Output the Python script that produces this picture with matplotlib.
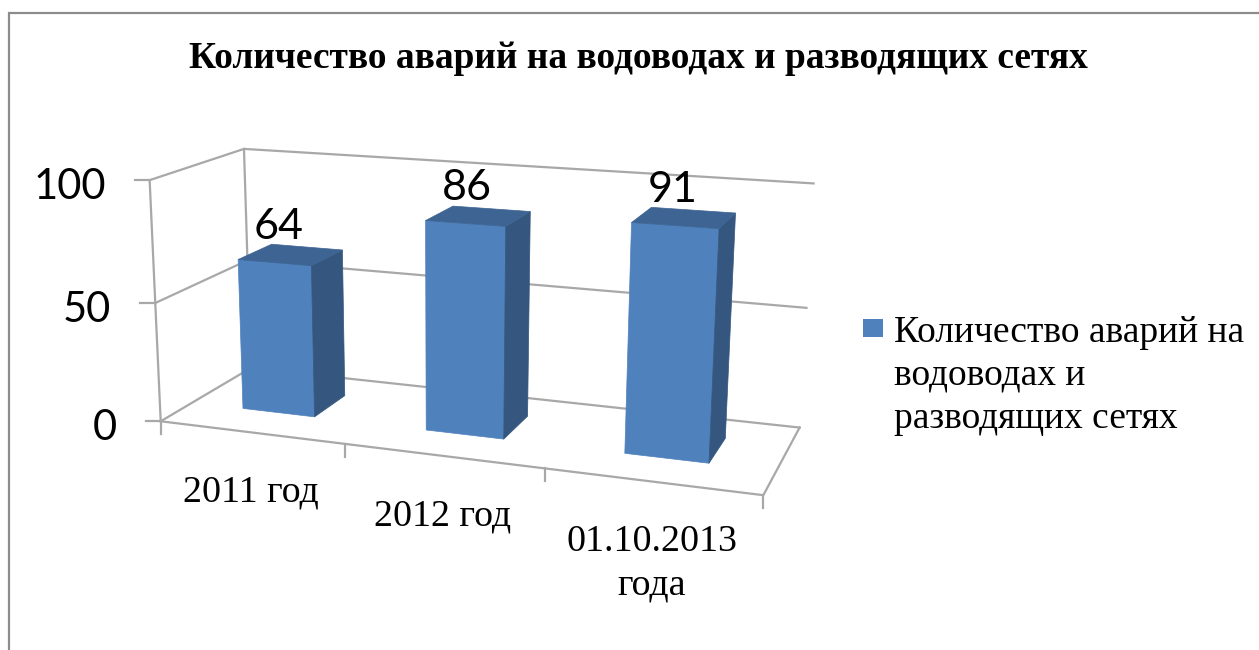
#!/usr/bin/env python3
import matplotlib
matplotlib.use('Agg')
import matplotlib.pyplot as plt
from matplotlib.patches import Polygon, Rectangle
import numpy as np

title = 'Количество аварий на водоводах и разводящих сетях'
categories = ['2011 год', '2012 год', '01.10.2013\nгода']
values = [64, 86, 91]
y_ticks = [0, 50, 100]
y_max = 100
legend_lines = ['Количество аварий на', 'водоводах и', 'разводящих сетях']

FRONT = '#4F81BD'
SIDE = '#34567F'
TOP = '#3D6493'
GRID = '#A8A8A8'
BORDER = '#8C8C8C'
SERIF = 'Liberation Serif'
SANS = 'Lato'

# box corners (category, depth, height as 0-1) and where they land on the image,
# used to fit one perspective camera for the whole 3d scene
calib_box = [(0, 0, 0), (1, 0, 0), (0, 1, 0), (1, 1, 0), (0, 0, 1), (0, 1, 1), (1, 1, 1),
             (1/3, 0, 0), (2/3, 0, 0), (0, 0, .5), (0, 1, .5), (1, 1, .5)]
calib_img = [(163, 421), (763, 496), (248, 368), (800, 427), (147, 180), (247, 150), (813, 183),
             (347, 445), (544, 468), (155, 302), (247, 260), (807, 308)]


def fit_camera(box, img):
    rows = []
    for (u, d, v), (x, y) in zip(box, img):
        p = [u, d, v, 1]
        rows.append(p + [0, 0, 0, 0] + [-x * c for c in p])
        rows.append([0, 0, 0, 0] + p + [-y * c for c in p])
    _, _, vt = np.linalg.svd(np.array(rows, dtype=float))
    return vt[-1].reshape(3, 4)


cam = fit_camera(calib_box, calib_img)


def proj(u, d, val):
    """category position (0-1), depth (0-1), axis value -> image pixel"""
    h = cam @ np.array([u, d, val / y_max, 1.0])
    return h[0] / h[2], h[1] / h[2]


fig = plt.figure(figsize=(12.59, 6.5), dpi=100)
ax = fig.add_axes([0, 0, 1, 1])
ax.set_xlim(0, 1259)
ax.set_ylim(650, 0)
ax.axis('off')

# frame of the chart (cut off on the right and at the bottom)
ax.plot([9, 9, 1259], [650, 13, 13], color=BORDER, lw=1.6, solid_joinstyle='miter')

ax.text(638, 59, title, family=SERIF, weight='bold', fontsize=26.9, ha='center', va='center')

# walls and floor
for t in y_ticks:
    pts = [proj(0, 0, t), proj(0, 1, t), proj(1, 1, t)]
    ax.plot(*zip(*pts), color=GRID, lw=1.6, zorder=1)
    x, y = proj(0, 0, t)
    ax.plot([x - 15, x], [y, y], color=GRID, lw=1.6, zorder=1)
    ax.text(x - 44, y + 7, str(t), family=SANS, fontsize=30, ha='right', va='center')

ax.plot(*zip(proj(0, 0, 0), proj(0, 0, y_max)), color=GRID, lw=1.6, zorder=1)
ax.plot(*zip(proj(0, 1, 0), proj(0, 1, y_max)), color=GRID, lw=1.6, zorder=1)
ax.plot(*zip(proj(0, 0, 0), proj(1, 0, 0), proj(1, 1, 0)), color=GRID, lw=1.6, zorder=1)

n = len(categories)
for i in range(n + 1):
    x, y = proj(i / n, 0, 0)
    ax.plot([x, x], [y, y + 13], color=GRID, lw=1.6, zorder=1)

# bars
bar_w = 0.40 / n
d0, d1 = 0.33, 0.71
for i, (cat, val) in enumerate(zip(categories, values)):
    uc = (i + 0.49) / n
    u0, u1 = uc - bar_w / 2, uc + bar_w / 2
    ax.add_patch(Polygon([proj(u0, d0, 0), proj(u1, d0, 0), proj(u1, d0, val), proj(u0, d0, val)],
                         fc=FRONT, ec=FRONT, lw=0.5, zorder=3))
    ax.add_patch(Polygon([proj(u1, d0, 0), proj(u1, d1, 0), proj(u1, d1, val), proj(u1, d0, val)],
                         fc=SIDE, ec=SIDE, lw=0.5, zorder=3))
    ax.add_patch(Polygon([proj(u0, d0, val), proj(u1, d0, val), proj(u1, d1, val), proj(u0, d1, val)],
                         fc=TOP, ec=TOP, lw=0.5, zorder=3))

    x, y = proj(uc, (d0 + d1) / 2, val)
    ax.text(x - 12, y - 28, str(val), family=SANS, fontsize=31, ha='center', va='center', zorder=4)

    x, y = proj((i + 0.5) / n, 0, 0)
    ax.text(x, y + 43, cat, family=SERIF, fontsize=27.4, ha='center', va='top',
            linespacing=1.35, zorder=4)

# legend
ax.add_patch(Rectangle((863, 319), 20, 18, fc=FRONT, ec='none'))
for k, line in enumerate(legend_lines):
    ax.text(894, 342 + 43 * k, line, family=SERIF, fontsize=27, ha='left', va='baseline')

fig.savefig('out.png', dpi=100)
